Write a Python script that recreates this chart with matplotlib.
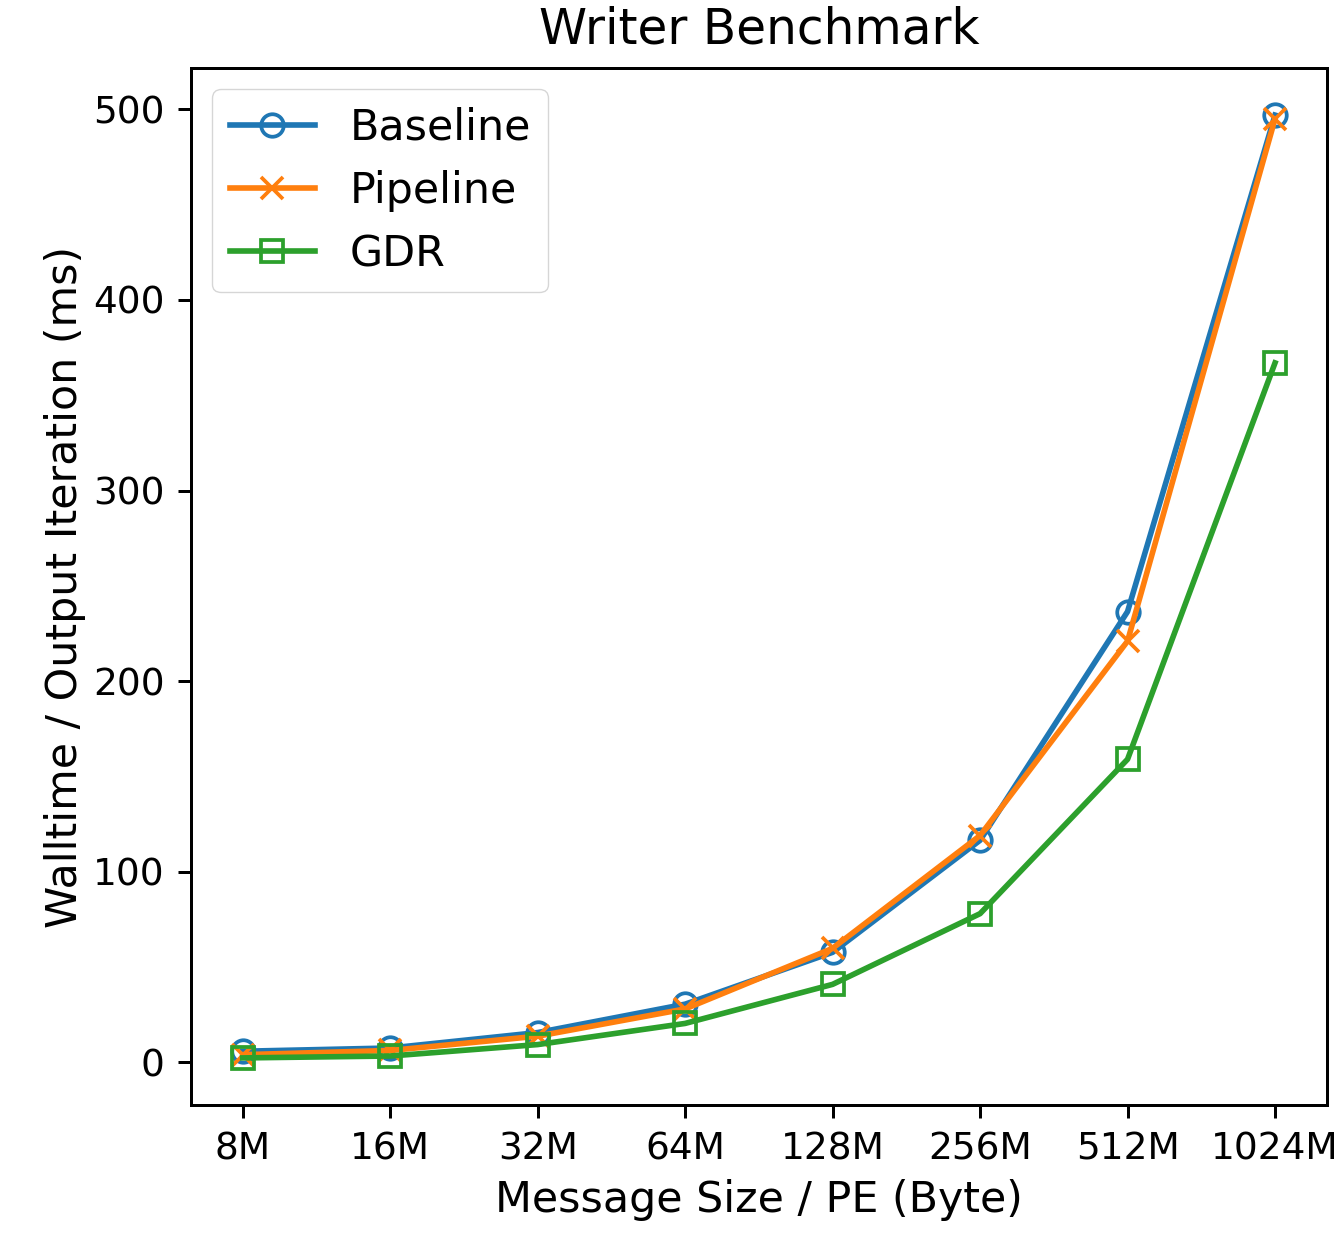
import matplotlib
matplotlib.use('Agg')
import matplotlib.pyplot as plt
import numpy as np

sizes = ['8M', '16M', '32M', '64M', '128M', '256M', '512M', '1024M']
baseline = [5.8, 7.5, 15.6, 30.5, 57.7, 116.5, 236.5, 497]
pipeline = [4.0, 6.2, 13.7, 28.0, 59.8, 119.0, 221.0, 495]
gdr = [2.3, 3.3, 9.3, 20.4, 40.9, 78.0, 159.0, 367]

s = 2.7  # scale vs. default matplotlib sizes
plt.rcParams['font.size'] = 10 * s
plt.rcParams['axes.linewidth'] = 0.8 * s
plt.rcParams['xtick.major.width'] = 0.8 * s
plt.rcParams['ytick.major.width'] = 0.8 * s
plt.rcParams['xtick.major.size'] = 3.5 * s
plt.rcParams['ytick.major.size'] = 3.5 * s
plt.rcParams['xtick.major.pad'] = 3.5 * s
plt.rcParams['ytick.major.pad'] = 3.5 * s

fig = plt.figure(figsize=(13.36, 12.45), dpi=100)
ax = fig.add_axes([0.143, 0.1124, 0.85, 0.833])

x = np.arange(len(sizes))
kw = dict(lw=1.5 * s, ms=6 * s, mew=1.0 * s, fillstyle='none')
ax.plot(x, baseline, marker='o', label='Baseline', **kw)
ax.plot(x, pipeline, marker='x', label='Pipeline', **kw)
ax.plot(x, gdr, marker='s', label='GDR', **kw)

ax.set_xticks(x)
ax.set_xticklabels(sizes)
ax.set_yticks([0, 100, 200, 300, 400, 500])
ax.set_xlabel('Message Size / PE (Byte)', fontsize=30.8, labelpad=3 * s)
ax.set_ylabel('Walltime / Output Iteration (ms)', fontsize=30.8, labelpad=2 * s)
ax.set_title('Writer Benchmark', fontsize=35, pad=6.5 * s)
ax.legend(loc='upper left', fontsize=30.8, borderpad=0.4, handlelength=2.0)

plt.savefig('out.png', dpi=100)
